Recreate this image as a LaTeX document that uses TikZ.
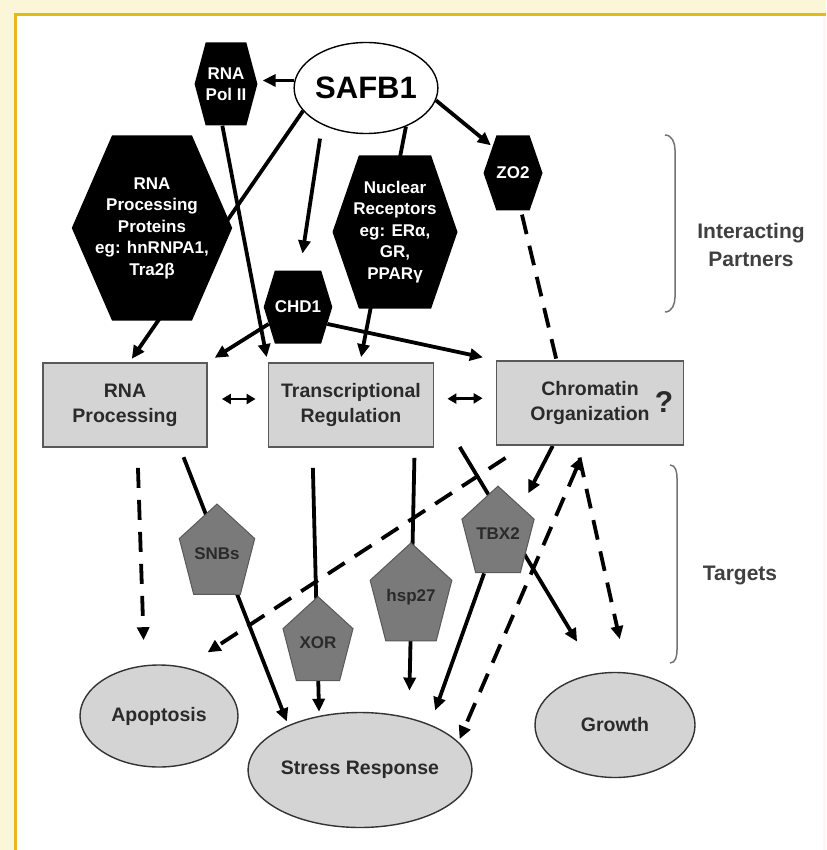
\documentclass[tikz,border=0pt]{standalone}
\usepackage{fontspec}
\setmainfont{Liberation Sans}
\usetikzlibrary{shapes.geometric,shapes.symbols,arrows.meta,backgrounds}

\definecolor{framegold}{HTML}{E8B71E}
\definecolor{framecream}{HTML}{FBF6D8}
\definecolor{boxgray}{HTML}{D4D4D4}
\definecolor{pentgray}{HTML}{7A7A7A}
\definecolor{inkgray}{HTML}{2A2A2A}

\newcommand\hexfont{\fontsize{17}{21.5}\selectfont\bfseries}
\newcommand\boxfont{\fontsize{19.5}{25}\selectfont\bfseries}
\newcommand\pentfont{\fontsize{17}{20}\selectfont\bfseries}
\newcommand\sidefont{\fontsize{21}{28}\selectfont\bfseries}
\newcommand\pentlabel[1]{\scalebox{1}[0.79]{#1}}
% text block that may stick out of the flat part of a hexagon
\newcommand\hexbody[2]{\makebox[#1]{\begin{tabular}{@{}c@{}}#2\end{tabular}}}

\tikzset{
  hexa/.style={signal, signal to=east and west, fill=black, text=white,
    font=\hexfont, align=center, inner sep=0pt},
  pent/.style={regular polygon, regular polygon sides=5, fill=pentgray,
    draw=black!65, line width=1pt, minimum size=73.6pt, inner sep=0pt,
    yscale=1.26, font=\pentfont, text=inkgray},
  procbox/.style={rectangle, fill=boxgray, draw=black!65, line width=1.8pt,
    minimum height=84pt, font=\boxfont, text=inkgray, align=center},
  outcome/.style={ellipse, fill=boxgray, draw=black!80, line width=1.4pt,
    font=\boxfont, text=inkgray, inner sep=0pt},
  link/.style={line width=3.8pt, -{Triangle[length=13pt,width=12pt]}},
  dlink/.style={link, dash pattern=on 20pt off 12pt},
  twoway/.style={line width=2.8pt,
    {Triangle[length=9pt,width=10pt]}-{Triangle[length=9pt,width=10pt]}},
  bracket/.style={draw=black!55, line width=1.5pt},
}

\begin{document}
\begin{tikzpicture}[x=1pt,y=-1pt]
  \useasboundingbox (0,0) rectangle (826,850);
  % frame
  \begin{pgfonlayer}{background}
    \fill[framecream] (0,0) rectangle (826,850);
    \fill[white] (15,15) rectangle (826,850);
    \fill[red!4] (823,15) rectangle (826,850);
    \draw[framegold, line width=3pt] (15,850) -- (15,15) -- (826,15);
  \end{pgfonlayer}

  % interacting partners
  \node[ellipse, draw=black, line width=1.4pt, fill=white, minimum width=143pt,
    minimum height=91pt, inner sep=0pt, font=\fontsize{31}{31}\selectfont\bfseries]
    (safb) at (366,88) {SAFB1};
  \node[hexa, minimum width=62pt, minimum height=83pt, signal pointer angle=150]
    (pol2) at (226,84) {RNA\\Pol II};
  \node[hexa, minimum width=160pt, minimum height=185pt, signal pointer angle=133]
    (rpp) at (152,228) {\hexbody{80pt}{RNA\\Processing\\Proteins\\eg: hnRNPA1,\\Tra2β}};
  \node[hexa, minimum width=125pt, minimum height=153pt, signal pointer angle=142]
    (nr) at (395,232) {\hexbody{72pt}{Nuclear\\Receptors\\eg: ERα,\\GR,\\PPARγ}};
  \node[hexa, minimum width=59pt, minimum height=73pt, signal pointer angle=146]
    (chd1) at (298,307) {CHD1};
  \node[hexa, minimum width=59pt, minimum height=75pt, signal pointer angle=142]
    (zo2) at (513,173) {ZO2};

  % functions
  \node[procbox, minimum width=164pt] (rnap) at (125,405) {RNA\\Processing};
  \node[procbox, minimum width=165pt] (tr) at (351,405) {Transcriptional\\Regulation};
  \node[procbox, minimum width=187pt] (chrom) at (590,403) {Chromatin\\Organization};
  \node[font=\fontsize{30}{30}\selectfont\bfseries, text=inkgray] (query) at (664,402) {?};

  % targets
  \node[pent] (snb) at (217,554) {\pentlabel{SNBs}};
  \node[pent] (xor) at (318,643) {\pentlabel{XOR}};
  \node[pent] (hsp) at (411,597) {\pentlabel{hsp27}};
  \node[pent] (tbx2) at (498,534) {\pentlabel{TBX2}};

  % outcomes
  \node[outcome, minimum width=158pt, minimum height=102pt] (apop) at (159,716) {Apoptosis};
  \node[outcome, minimum width=208pt, minimum height=115pt] (stress) at (360,770) {Stress Response};
  \node[outcome, minimum width=160pt, minimum height=105pt] (growth) at (615,725) {Growth};

  % side labels
  \node[font=\sidefont, text=black!75, align=center] (partners) at (751,245) {Interacting\\Partners};
  \node[font=\sidefont, text=black!75] (targets) at (740,575) {Targets};
  \draw[bracket] (665,135) to[out=0,in=90] (675,150) -- (675,297) to[out=-90,in=0] (665,312);
  \draw[bracket] (670,465) to[out=0,in=90] (677,478) -- (677,650) to[out=-90,in=0] (670,663);

  \begin{pgfonlayer}{background}
    % from SAFB1
    \draw[link, shorten >=5pt] (safb.174) -- (safb.174 -| pol2.east);
    \draw[link, shorten >=2pt] (safb.-10) -- (zo2.128);
    \draw[link, shorten <=14pt, shorten >=17pt] (safb.220) -- (chd1.87);
    \draw[link, shorten >=5pt] (safb.-44) -- (tr.78);
    \draw[link, shorten >=4pt] (safb.200) -- (rnap.84);
    % partners to functions
    \draw[link, shorten >=5pt] (pol2.265) -- (tr.north west);
    \draw[link, shorten >=8pt] (chd1.210) -- (rnap.north east);
    \draw[link, shorten >=13pt] (chd1.-30) -- (chrom.north west);
    \draw[dlink, -, shorten <=4pt] (zo2.-78) -- (chrom.128);
    \draw[twoway, shorten <=14pt, shorten >=12pt] ([yshift=6pt]rnap.east) -- ([yshift=6pt]tr.west);
    \draw[twoway, shorten <=13pt, shorten >=13pt] ([yshift=6pt]tr.east) -- ([yshift=5pt]chrom.west);
    % functions to outcomes
    \draw[dlink, shorten <=20pt, shorten >=25pt] (rnap.-74) -- (apop.106);
    \draw[link, shorten <=10pt, shorten >=4pt] (rnap.-38) -- (stress.148);
    \draw[link, shorten <=20pt, shorten >=4pt] (tr.228) -- (stress.127);
    \draw[link, shorten <=10pt, shorten >=27pt] (tr.-34) -- (stress.47);
    \draw[link, shorten <=49pt, shorten >=37pt] (tr.east) -- (growth.110);
    \draw[link, shorten >=15pt] (chrom.-131) -- (tbx2.43);
    \draw[link, shorten >=15pt] (tbx2.246) -- (stress.33);
    \draw[dlink, shorten <=22pt, shorten >=27pt] (chrom.213) -- (apop.62);
    \draw[dlink, {Triangle[length=13pt,width=12pt]}-{Triangle[length=13pt,width=12pt]},
      shorten <=12pt, shorten >=3pt] (chrom.-95) -- (stress.16);
    \draw[dlink, shorten <=12pt, shorten >=34pt] (chrom.-107) -- (growth.77);
  \end{pgfonlayer}
\end{tikzpicture}
\end{document}
